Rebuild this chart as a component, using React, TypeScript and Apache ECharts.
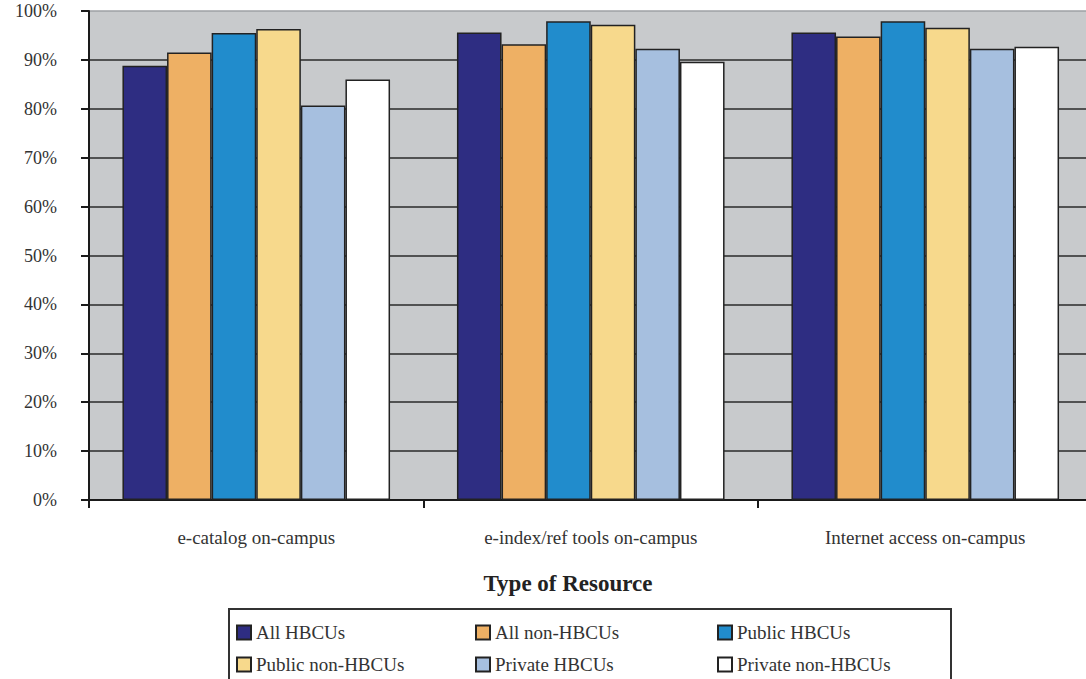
import React, { useEffect, useRef } from "react";
import * as echarts from "echarts";

const categories = ["e-catalog on-campus", "e-index/ref tools on-campus", "Internet access on-campus"];
const seriesNames = ["All HBCUs", "All non-HBCUs", "Public HBCUs", "Public non-HBCUs", "Private HBCUs", "Private non-HBCUs"];
const allHBCUs = [88.8, 95.6, 95.6];
const allNonHBCUs = [91.5, 93.2, 94.8];
const publicHBCUs = [95.5, 97.9, 97.9];
const publicNonHBCUs = [96.3, 97.2, 96.6];
const privateHBCUs = [80.7, 92.3, 92.3];
const privateNonHBCUs = [86.0, 89.6, 92.7];
const seriesValues = [allHBCUs, allNonHBCUs, publicHBCUs, publicNonHBCUs, privateHBCUs, privateNonHBCUs];
const colors = ["#2e2d82", "#eeb064", "#218ccc", "#f7d98c", "#a6bfdf", "#ffffff"];
const axisTitle = "Type of Resource";

const serif = "Liberation Serif, Times New Roman, serif";

export default function App() {
  const ref = useRef<HTMLDivElement>(null);
  useEffect(() => {
    if (!ref.current) return;
    const chart = echarts.init(ref.current, undefined, { renderer: "svg" });
    const splitColors = Array.from({ length: 11 }, (_, i) => (i === 10 ? "#9ea1a4" : "#2a2a2a"));
    const colLefts = [231, 470, 712];
    const rowTops = [618, 650];
    const legends = seriesNames.map((name, i) => ({
      orient: "horizontal",
      left: colLefts[i % 3],
      top: rowTops[Math.floor(i / 3)],
      itemWidth: 14,
      itemHeight: 14,
      icon: "rect",
      data: [name],
      textStyle: { fontSize: 19, color: "#333", fontFamily: serif },
    }));
    chart.setOption({
      animation: false,
      textStyle: { fontFamily: serif },
      grid: {
        left: 89,
        top: 11,
        bottom: 179,
        right: 7.5,
        show: true,
        backgroundColor: "#c8cacc",
        borderWidth: 0,
      },
      xAxis: {
        type: "category",
        data: categories,
        axisLine: { lineStyle: { color: "#1a1a1a", width: 2 } },
        axisTick: { show: true, length: 8, lineStyle: { color: "#1a1a1a", width: 2 } },
        axisLabel: { fontSize: 19, color: "#333", margin: 28, fontFamily: serif },
      },
      yAxis: {
        type: "value",
        min: 0,
        max: 100,
        interval: 10,
        axisLine: { show: true, lineStyle: { color: "#1a1a1a", width: 2 } },
        axisTick: { show: true, length: 8, lineStyle: { color: "#1a1a1a", width: 2 } },
        axisLabel: { fontSize: 18, color: "#333", margin: 32, formatter: "{value}%", fontFamily: serif },
        splitLine: { show: true, lineStyle: { color: splitColors, width: 1.5 } },
      },
      legend: legends,
      graphic: [
        {
          type: "text",
          x: 568,
          y: 583,
          style: {
            text: axisTitle,
            font: `bold 23px ${serif}`,
            fill: "#222",
            textAlign: "center",
            textVerticalAlign: "middle",
          },
        },
        {
          type: "rect",
          shape: { x: 229, y: 609, width: 722, height: 80 },
          style: { fill: "none", stroke: "#333", lineWidth: 2 },
        },
      ],
      series: seriesNames.map((name, i) => ({
        name,
        type: "bar",
        data: seriesValues[i],
        barGap: "0%",
        barCategoryGap: "20%",
        itemStyle: { color: colors[i], borderColor: "#222", borderWidth: 1.5 },
      })),
    });
    return () => chart.dispose();
  }, []);
  return (
    <div style={{ position: "fixed", left: 0, top: 0, width: 1086, height: 679, overflow: "hidden", background: "#fff" }}>
      <div ref={ref} style={{ width: 1100, height: 679 }} />
    </div>
  );
}
